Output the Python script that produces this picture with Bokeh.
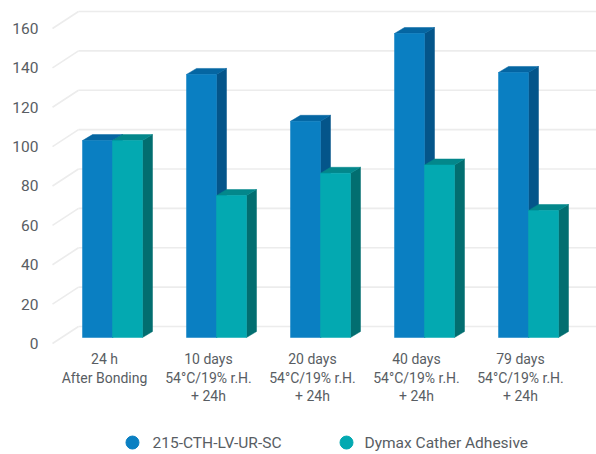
from bokeh.plotting import figure
from bokeh.models import Range1d, ColumnDataSource
from bokeh.core.properties import value
from bokeh.embed import file_html
from bokeh.resources import INLINE

# ---- data ----
categories = [
    "24 h\nAfter Bonding",
    "10 days\n54°C/19% r.H.\n+ 24h",
    "20 days\n54°C/19% r.H.\n+ 24h",
    "40 days\n54°C/19% r.H.\n+ 24h",
    "79 days\n54°C/19% r.H.\n+ 24h",
]
series_names = ["215-CTH-LV-UR-SC", "Dymax Cather Adhesive"]
series_a = [100, 133.6, 109.8, 154.4, 134.6]
series_b = [100, 72.1, 83.4, 87.6, 64.5]
y_ticks = [0, 20, 40, 60, 80, 100, 120, 140, 160]

# ---- styles ----
front_colors = ["#0a7fc2", "#03a9b1"]
side_colors = ["#04558a", "#026e70"]
top_colors = ["#0566a2", "#03878b"]
text_color = "#585d63"
grid_color = "#ececec"

W, H = 596, 454
px_x = 104.0
px_y = 1.969
x0 = -1.0
x1 = x0 + W / px_x
y1 = 343 / px_y
y0 = y1 - H / px_y

bar_w = 30 / px_x
ox1, oy1 = 8 / px_x, 6 / px_y      # bar front face offset from front plane
ox2, oy2 = 18 / px_x, 12 / px_y    # bar back face offset
ox3, oy3 = 26 / px_x, 17 / px_y    # back wall offset

p = figure(width=W, height=H, x_range=Range1d(x0, x1), y_range=Range1d(y0, y1),
           output_backend="svg", toolbar_location=None, min_border=0)
p.axis.visible = False
p.grid.visible = False
p.outline_line_color = None
p.background_fill_color = "white"
p.border_fill_color = "white"

# ---- 3D grid ----
wall_left_x = -0.5
gx_back, gy_back, seg = [], [], dict(x0=[], y0=[], x1=[], y1=[])
for t in y_ticks:
    gx_back.append([wall_left_x + ox3, x1 + 1])
    gy_back.append([t + oy3, t + oy3])
    seg["x0"].append(wall_left_x)
    seg["y0"].append(t)
    seg["x1"].append(wall_left_x + ox3)
    seg["y1"].append(t + oy3)
p.multi_line(xs=gx_back, ys=gy_back, line_color=grid_color, line_width=1.6)
p.segment(x0="x0", y0="y0", x1="x1", y1="y1", source=ColumnDataSource(seg),
          line_color=grid_color, line_width=1.6)

# ---- 3D bars ----
dx, dy = ox2 - ox1, oy2 - oy1
for j, vals in enumerate([series_a, series_b]):
    sx, sy, tx, ty = [], [], [], []
    lefts, rights, bottoms, tops = [], [], [], []
    for i, v in enumerate(vals):
        lf = i - bar_w + j * bar_w + ox1
        rf = lf + bar_w
        bf = oy1
        tf = v + oy1
        sx.append([rf, rf + dx, rf + dx, rf])
        sy.append([bf, bf + dy, tf + dy, tf])
        tx.append([lf, rf, rf + dx, lf + dx])
        ty.append([tf, tf, tf + dy, tf + dy])
        lefts.append(lf); rights.append(rf); bottoms.append(bf); tops.append(tf)
    p.patches(xs=sx, ys=sy, fill_color=side_colors[j], line_color=side_colors[j], line_width=0.5)
    p.patches(xs=tx, ys=ty, fill_color=top_colors[j], line_color=top_colors[j], line_width=0.5)
    p.quad(left=lefts, right=rights, bottom=bottoms, top=tops,
           fill_color=front_colors[j], line_color=front_colors[j], line_width=0.5)

# ---- y tick labels ----
p.text(x=[-0.635] * len(y_ticks), y=y_ticks, text=[str(t) for t in y_ticks],
       text_align="right", text_baseline="middle", text_color=text_color,
       text_font=value("Roboto"), text_font_size="15.5px")

# ---- x category labels ----
p.text(x=list(range(len(categories))), y=[-4.0] * len(categories), text=categories,
       text_align="center", text_baseline="top", text_color=text_color,
       text_font=value("Roboto"), text_font_size="14px", text_line_height=1.15)

# ---- legend ----
leg_y = -50.3
p.scatter(x=[0.269, 2.327], y=[leg_y, leg_y], size=13, marker="circle",
          fill_color=front_colors, line_color=front_colors)
p.text(x=[0.462, 2.50], y=[leg_y, leg_y], text=series_names,
       text_align="left", text_baseline="middle", text_color=text_color,
       text_font=value("Roboto"), text_font_size="15.5px")

open("out.html", "w").write(file_html(p, INLINE))
